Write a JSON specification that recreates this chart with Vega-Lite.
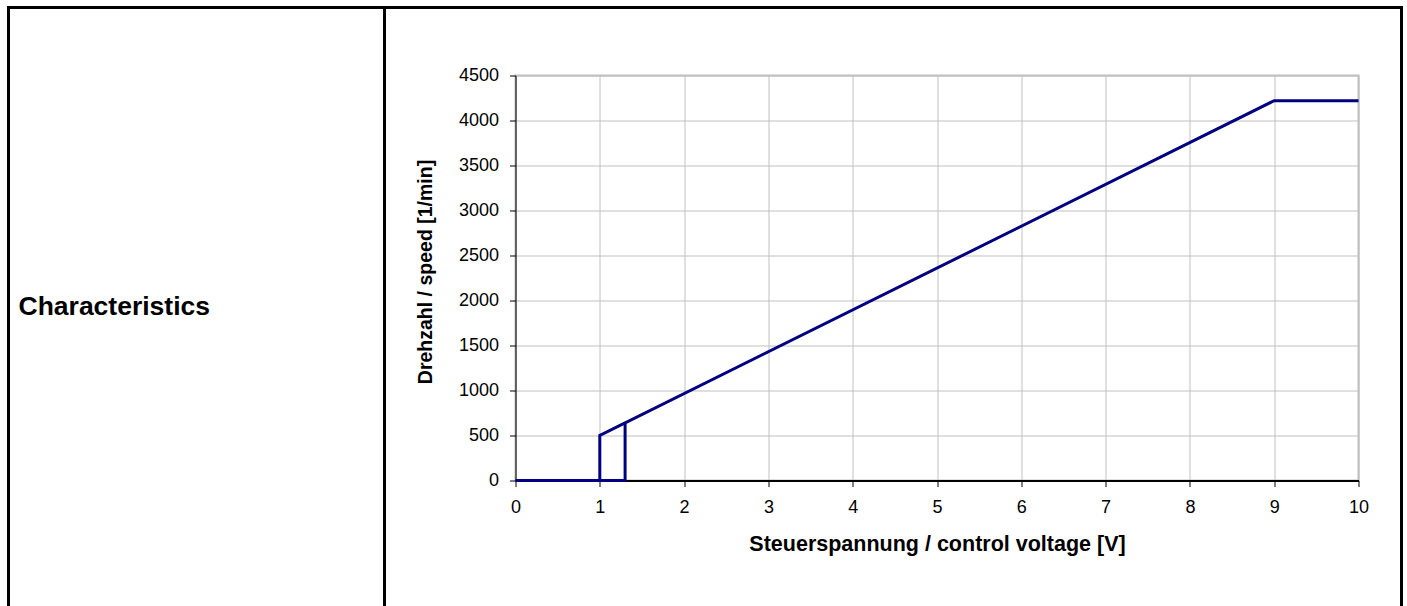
{
  "$schema": "https://vega.github.io/schema/vega-lite/v6.json",
  "padding": {"left": 5.5, "top": 4.5, "right": 0, "bottom": 0},
  "background": "white",
  "config": {"view": {"stroke": null}, "font": "Liberation Sans"},
  "datasets": {
    "curve": [
      {"segment": "main", "step": 0, "voltage": 0, "speed": 0},
      {"segment": "main", "step": 1, "voltage": 1.3, "speed": 0},
      {"segment": "main", "step": 2, "voltage": 1.3, "speed": 640},
      {"segment": "main", "step": 3, "voltage": 9, "speed": 4220},
      {"segment": "main", "step": 4, "voltage": 10, "speed": 4220},
      {"segment": "hysteresis", "step": 0, "voltage": 1, "speed": 0},
      {"segment": "hysteresis", "step": 1, "voltage": 1, "speed": 500},
      {"segment": "hysteresis", "step": 2, "voltage": 1.3, "speed": 640}
    ],
    "cell": [{"label": "Characteristics"}],
    "empty": []
  },
  "columns": 4,
  "spacing": 0,
  "bounds": "flush",
  "align": "each",
  "concat": [
    {"width": 376, "height": 68, "view": {"stroke": "black", "strokeWidth": 3, "strokeCap": "square", "strokeDash": [444, 376, 68]}, "data": {"name": "empty"}, "mark": "point"},
    {"width": 131, "height": 68, "view": {"stroke": "black", "strokeWidth": 3, "strokeCap": "square", "strokeDash": [131, 1000]}, "data": {"name": "empty"}, "mark": "point"},
    {"width": 843, "height": 68, "view": {"stroke": "black", "strokeWidth": 3, "strokeCap": "square", "strokeDash": [843, 2000]}, "data": {"name": "empty"}, "mark": "point"},
    {"width": 43, "height": 68, "view": {"stroke": "black", "strokeWidth": 3, "strokeCap": "square", "strokeDash": [111, 1000]}, "data": {"name": "empty"}, "mark": "point"},

    {
      "width": 376, "height": 405,
      "view": {"stroke": "black", "strokeWidth": 3, "strokeCap": "square", "strokeDash": [405, 376], "strokeDashOffset": 405},
      "data": {"name": "cell"},
      "mark": {"type": "text", "align": "left", "baseline": "middle", "font": "Liberation Sans", "fontWeight": "bold", "fontSize": 26.5, "color": "black", "dx": 10, "dy": 29},
      "encoding": {
        "text": {"field": "label"},
        "x": {"datum": 0, "type": "quantitative", "scale": {"domain": [0, 1]}, "axis": null},
        "y": {"datum": 0.5, "type": "quantitative", "scale": {"domain": [0, 1]}, "axis": null}
      }
    },
    {"width": 131, "height": 405, "data": {"name": "empty"}, "mark": "point"},
    {
      "width": 843,
      "height": 405,
      "view": {"stroke": "#c0c0c0", "strokeWidth": 2},
      "data": {"name": "curve"},
      "mark": {"type": "line", "color": "#000080", "strokeWidth": 3, "strokeJoin": "miter"},
      "encoding": {
        "x": {
          "field": "voltage", "type": "quantitative",
          "scale": {"domain": [0, 10], "nice": false, "zero": false},
          "axis": {
            "title": "Steuerspannung / control voltage [V]",
            "values": [0, 1, 2, 3, 4, 5, 6, 7, 8, 9, 10],
            "format": "d",
            "grid": true, "gridColor": "#c0c0c0", "gridWidth": 1,
            "domainColor": "black", "domainWidth": 2,
            "tickColor": "black", "tickSize": 6, "tickWidth": 1,
            "labelFont": "Liberation Sans", "labelFontSize": 18, "labelColor": "black", "labelPadding": 12,
            "labelFlush": false, "labelOverlap": false,
            "titleFont": "Liberation Sans", "titleFontSize": 21.5, "titleFontWeight": "bold", "titleColor": "black", "titlePadding": 17,
            "zindex": 0
          }
        },
        "y": {
          "field": "speed", "type": "quantitative",
          "scale": {"domain": [0, 4500], "nice": false},
          "axis": {
            "title": "Drehzahl / speed [1/min]",
            "values": [0, 500, 1000, 1500, 2000, 2500, 3000, 3500, 4000, 4500],
            "format": "d",
            "grid": true, "gridColor": "#c0c0c0", "gridWidth": 1,
            "domainColor": "black", "domainWidth": 1,
            "tickColor": "black", "tickSize": 6, "tickWidth": 1,
            "labelFont": "Liberation Sans", "labelFontSize": 18, "labelColor": "black", "labelPadding": 11,
            "labelFlush": false, "labelOverlap": false,
            "titleFont": "Liberation Sans", "titleFontSize": 19.5, "titleFontWeight": "bold", "titleColor": "black", "titlePadding": 23,
            "titleY": 196,
            "zindex": 0
          }
        },
        "detail": {"field": "segment"},
        "order": {"field": "step"}
      }
    },
    {"width": 43, "height": 405, "view": {"stroke": "black", "strokeWidth": 3, "strokeCap": "square", "strokeDash": [405, 491], "strokeDashOffset": 853}, "data": {"name": "empty"}, "mark": "point"},

    {"width": 376, "height": 124, "view": {"stroke": "black", "strokeWidth": 3, "strokeCap": "square", "strokeDash": [124, 376], "strokeDashOffset": 124}, "data": {"name": "empty"}, "mark": "point"},
    {"width": 131, "height": 124, "data": {"name": "empty"}, "mark": "point"},
    {"width": 843, "height": 124, "data": {"name": "empty"}, "mark": "point"},
    {"width": 43, "height": 124, "view": {"stroke": "black", "strokeWidth": 3, "strokeCap": "square", "strokeDash": [124, 210], "strokeDashOffset": 291}, "data": {"name": "empty"}, "mark": "point"}
  ]
}
